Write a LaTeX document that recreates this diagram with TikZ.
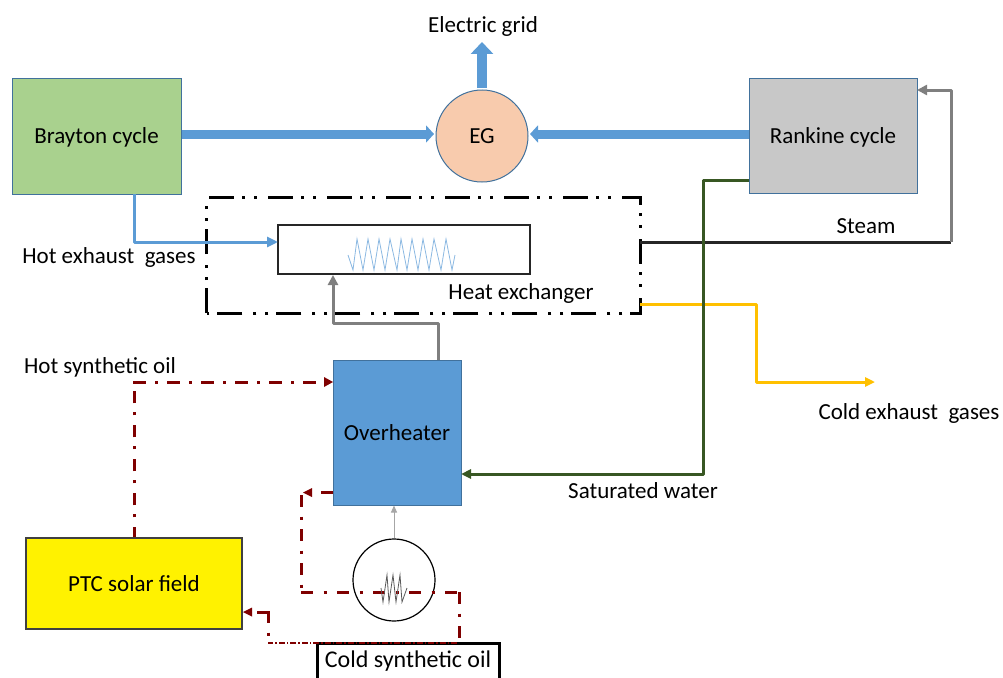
\documentclass[tikz,border=0pt]{standalone}
\usepackage{fontspec}
\setmainfont{Carlito}
\usetikzlibrary{arrows.meta}
\definecolor{bluefill}{HTML}{5B9BD5}
\definecolor{blueedge}{HTML}{41719C}
\definecolor{darkred}{HTML}{7F0000}
\definecolor{grayline}{HTML}{7F7F7F}
\definecolor{greenline}{HTML}{385723}
\definecolor{yellowline}{HTML}{FFC000}
\tikzset{
  every node/.style={font=\fontsize{23}{27}\selectfont,text=black,text height=20pt,text depth=5pt},
  boxnode/.style={draw=blueedge,line width=1pt,inner sep=0pt,minimum width=#1},
  label/.style={inner sep=0pt},
  fat/.style={draw=bluefill,line width=9pt,-{Triangle[length=8pt,width=17pt]}},
  thinblue/.style={draw=bluefill,line width=3pt,-{Triangle[length=11pt,width=10pt]}},
  grayarrow/.style={draw=grayline,line width=3pt,-{Triangle[length=10pt,width=10pt]},line join=round},
  hx/.style={draw=black,line width=3pt,dash pattern=on 25pt off 8pt on 3pt off 9pt on 3pt off 11pt},
  oil/.style={draw=darkred,line width=3pt,dash pattern=on 12.5pt off 9.5pt on 3pt off 9pt},
  oiltip/.style={draw=none,fill=darkred},
}
\begin{document}
\begin{tikzpicture}[x=1pt,y=-1pt]
\useasboundingbox (0,0) rectangle (1003,677);
% boxes
\node[boxnode=169pt,minimum height=116pt,fill={rgb,255:red,169;green,209;blue,142}] (brayton) at (96.5,136) {Brayton cycle};
\node[boxnode=168pt,minimum height=115pt,fill={rgb,255:red,200;green,200;blue,200}] (rankine) at (833,135.5) {Rankine cycle};
\node[draw=blueedge,line width=1pt,circle,inner sep=0pt,minimum size=92pt,fill={rgb,255:red,248;green,203;blue,173}] (eg) at (482,136) {EG};
\node[boxnode=128pt,minimum height=145pt,fill=bluefill] (over) at (397,432.5) {Overheater};
\node[draw=black!75,line width=1.2pt,inner sep=0pt,minimum width=216pt,minimum height=91pt,fill=yellow] (ptc) at (134,583.5) {PTC solar field};
\node[draw=black,line width=3pt,inner sep=0pt,minimum width=182pt,minimum height=44pt,anchor=north west] (cold) at (316,642) {};
\node[label,font=\fontsize{24}{28}\selectfont] (coldtext) at (408,660) {Cold synthetic oil};
\node[draw=black!85,line width=1.2pt,inner sep=0pt,minimum width=252pt,minimum height=49pt] (inner) at (404,249.5) {};
\node[draw=black,line width=1.2pt,circle,inner sep=0pt,minimum size=82pt] (heater) at (394,580) {};
\node[inner sep=0pt,minimum width=433pt,minimum height=115pt] (hxbox) at (423.5,255.5) {};
\draw[hx] (hxbox.south west) -- (hxbox.north west) -- (hxbox.north east) -- (hxbox.south east) -- (hxbox.south west);
% blue zigzag
\draw[draw=bluefill!70,line width=0.8pt] (348,255)--(353,270)--(357,239)--(363,270)--(368,239)--(374,270)--(379,239)--(385,270)--(390,239)--(397,270)--(401,239)--(407,270)--(412,239)--(418,270)--(423,239)--(429,270)--(434,239)--(441,270)--(446,239)--(452,270)--(455,255);
% labels
\node[label] (grid) at (483,25) {Electric grid};
\node[label] (hot) at (109,256) {Hot exhaust\ \ gases};
\node[label] (steam) at (866,226) {Steam};
\node[label] (hxl) at (521,292) {Heat exchanger};
\node[label] (coldgas) at (909,412) {Cold exhaust\ \ gases};
\node[label] (hotoil) at (100,366) {Hot synthetic oil};
\node[label] (sat) at (643,491) {Saturated water};
% coordinates on the outlines
\coordinate (bs) at (134,194);
\coordinate (ie) at (278,242);
\coordinate (os) at (438,360);
\coordinate (ib) at (333,275);
\coordinate (hs) at (640,242);
\coordinate (hc) at (951,242);
\coordinate (rt) at (917,90);
\coordinate (hy) at (640,304);
\coordinate (ye) at (875,382);
\coordinate (rg) at (749,180);
\coordinate (ow) at (461,474);
\coordinate (ot) at (333,382);
\coordinate (ol) at (333,492.5);
\coordinate (oc) at (303,492.5);
\coordinate (ct) at (459,640);
\coordinate (ctl) at (457,643);
\coordinate (pr) at (243,612);
\coordinate (gt) at (482,42);
% power
\draw[fat] (brayton.east |- 0,134) -- (434,134);
\draw[fat] (rankine.west |- 0,134) -- (530,134);
\draw[draw=bluefill,line width=10pt,-{Triangle[length=12pt,width=22pt]}] (482,88) -- (gt);
% gas and steam
\draw[thinblue,line join=round] (bs) |- (ie);
\draw[grayarrow] (os) |- (333,323) -- (ib);
\draw[draw=black!85,line width=3pt] (hs) -- (hc);
\draw[grayarrow] (hc) -- (951,90) -- (rt);
\draw[draw=yellowline,line width=3pt,-{Triangle[length=10pt,width=9pt]},line join=round] (hy) -- (756,304) -- (756,382) -- (ye);
\draw[draw=greenline,line width=3pt,-{Triangle[length=10pt,width=9pt]},line join=round] (rg) -- (703,180) -- (703,474) -- (ow);
% oil
\draw[oil,dash phase=2pt] (ptc.north) -- (134,386);
\draw[oil] (133,382) -- (320,382);
\path[oiltip] (ot) -- (324,377) -- (324,387) -- cycle;
\draw[draw=darkred,line width=3pt] (ol) -- (321,492.5);
\path[oiltip] (oc) -- (312,488) -- (312,497) -- cycle;
\draw[oil,dash pattern=on 12pt off 9.5pt on 3pt off 9.5pt] (301.5,495) -- (301.5,592);
\draw[oil,dash pattern=on 12pt off 10.5pt on 3pt off 10.5pt] (301,592.5) -- (460,592.5);
\draw[oil,dash pattern=on 12pt off 9.5pt on 3pt off 9.5pt] (459,592) -- (ct);
\draw[draw=darkred,line width=1.2pt,dash pattern=on 6pt off 2pt on 1.5pt off 2pt] (ctl) -- (268,643);
\draw[oil,dash pattern=on 22pt off 9.5pt on 3pt off 100pt,line join=miter] (257,612) -- (268,612) -- (268,640);
\path[oiltip] (pr) -- (252,607.5) -- (252,616.5) -- cycle;
\draw[draw=black!35,line width=1pt,-{Triangle[length=7pt,width=6pt]}] (heater.north) -- (over.south -| heater.north);
% gray zigzag
\draw[draw=black!65,line width=0.8pt] (381,588)--(383,602)--(387,575)--(389,602)--(393,575)--(396,602)--(400,575)--(402,602)--(407,588);
\end{tikzpicture}
\end{document}
